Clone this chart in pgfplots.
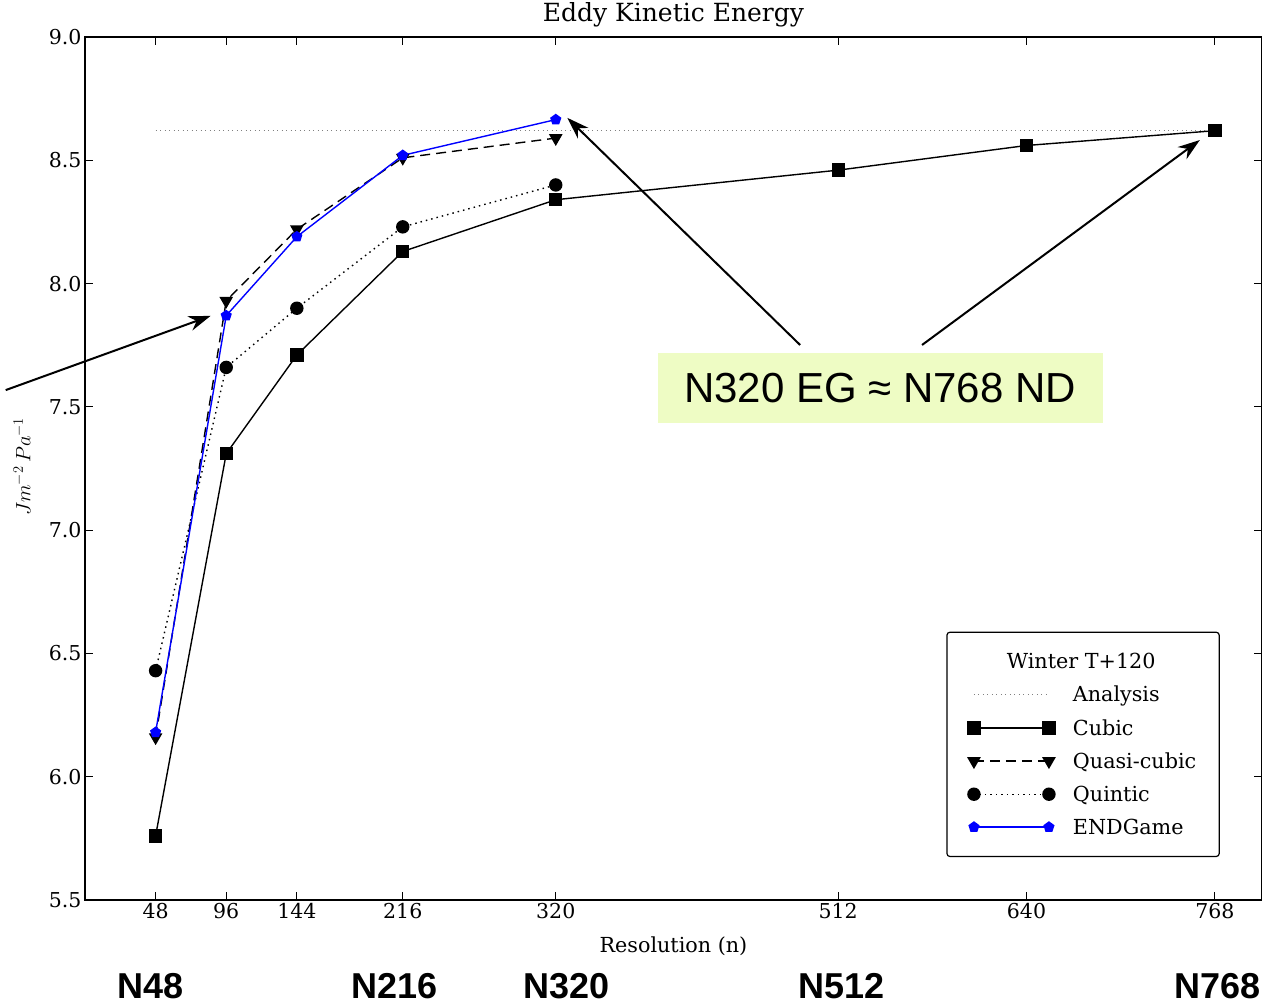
\documentclass[border=0pt]{standalone}
\usepackage{fontspec}
\setmainfont{DejaVu Serif}
\newfontfamily\arial{Liberation Sans}
\usepackage{pgfplots}
\pgfplotsset{compat=1.18}
\usetikzlibrary{arrows.meta,plotmarks}
\definecolor{boxcol}{RGB}{238,252,196}
\definecolor{mplblue}{RGB}{0,0,255}
\begin{document}
\begin{tikzpicture}
\begin{axis}[
  at={(0pt,0pt)}, anchor=south west,
  scale only axis, width=1177pt, height=863pt,
  xmin=0, xmax=800, ymin=5.5, ymax=9.0,
  xtick={48,96,144,216,320,512,640,768},
  ytick={5.5,6.0,6.5,7.0,7.5,8.0,8.5,9.0},
  yticklabel style={/pgf/number format/.cd, fixed, fixed zerofill, precision=1},
  /pgf/number format/assume math mode=true,
  tick align=inside, major tick length=8pt,
  tick style={black, line width=0.8pt},
  tick label style={font=\fontsize{20.5}{24}\selectfont},
  axis line style={line width=1.2pt},
  title={Eddy Kinetic Energy},
  title style={font=\fontsize{25}{30}\selectfont, at={(axis description cs:0.5,1)}, anchor=base, yshift=9pt},
  xlabel={Resolution (n)},
  xlabel style={font=\fontsize{20.7}{25}\selectfont, at={(axis description cs:0.5,0)}, anchor=base, yshift=-52pt},
  ylabel={$Jm^{-2}\,Pa^{-1}$},
  ylabel style={font=\fontsize{21.5}{26}\selectfont, at={(axis description cs:-0.0535,0.502)}, anchor=center, rotate=0},
  clip=false,
  legend cell align=left,
  legend style={at={(axis cs:771.4,5.674)}, anchor=south east,
    draw=black, line width=1.2pt, rounded corners=3pt,
    font=\fontsize{20.7}{25}\selectfont,
    row sep=12pt, inner xsep=21pt, inner ysep=19pt,
    /tikz/every odd column/.append style={column sep=16pt}},
  legend image code/.code={\draw[mark repeat=1] plot coordinates {(0pt,0pt) (75pt,0pt)};},
]
\addlegendimage{empty legend}
\addlegendentry{\hspace{-66pt}Winter T+120}

\addplot[gray, line width=0.8pt, dash pattern=on 1pt off 3.5pt, no marks] coordinates {(48,8.62) (768,8.62)};
\addlegendentry{Analysis}

\addplot[black, line width=1.4pt, mark=square*, mark size=6pt, mark options={solid}] coordinates {
(48,5.76) (96,7.31) (144,7.71) (216,8.13) (320,8.34) (512,8.46) (640,8.56) (768,8.62)};
\addlegendentry{Cubic}

\addplot[black, line width=1.4pt, dash pattern=on 10pt off 6pt, mark=triangle*, mark size=6.5pt, mark options={solid, rotate=180}] coordinates {
(48,6.16) (96,7.93) (144,8.22) (216,8.51) (320,8.59)};
\addlegendentry{Quasi-cubic}

\addplot[black, line width=1.4pt, dash pattern=on 1.5pt off 4pt, mark=*, mark size=6pt, mark options={solid}] coordinates {
(48,6.43) (96,7.66) (144,7.90) (216,8.23) (320,8.40)};
\addlegendentry{Quintic}

\addplot[mplblue, line width=1.4pt, mark=pentagon*, mark size=5pt, mark options={solid}] coordinates {
(48,6.18) (96,7.87) (144,8.19) (216,8.52) (320,8.665)};
\addlegendentry{ENDGame}

\node[fill=boxcol, inner sep=0pt, minimum width=445pt, minimum height=70pt,
  font=\arial\fontsize{42}{48}\selectfont] at (axis cs:540.5,7.577) {N320 EG ≈ N768 ND};

\draw[line width=2pt, -{Stealth[length=22pt, width=15pt]}] (axis cs:-53.9,7.568) -- (axis cs:85.4,7.869);
\draw[line width=2pt, -{Stealth[length=22pt, width=15pt]}] (axis cs:486.1,7.751) -- (axis cs:327.9,8.672);
\draw[line width=2pt, -{Stealth[length=22pt, width=15pt]}] (axis cs:569,7.751) -- (axis cs:757.8,8.582);

\tikzset{blab/.style={font=\arial\bfseries\fontsize{36}{40}\selectfont, inner sep=0pt, anchor=base}}
\node[blab] at (axis cs:44.6,5.102) {N48};
\node[blab] at (axis cs:210.3,5.102) {N216};
\node[blab] at (axis cs:327.2,5.102) {N320};
\node[blab] at (axis cs:514,5.102) {N512};
\node[blab] at (axis cs:770,5.102) {N768};
\end{axis}
\pgfresetboundingbox
\path[use as bounding box] (-85pt,-105pt) rectangle (1178pt,900pt);
\end{tikzpicture}
\end{document}
